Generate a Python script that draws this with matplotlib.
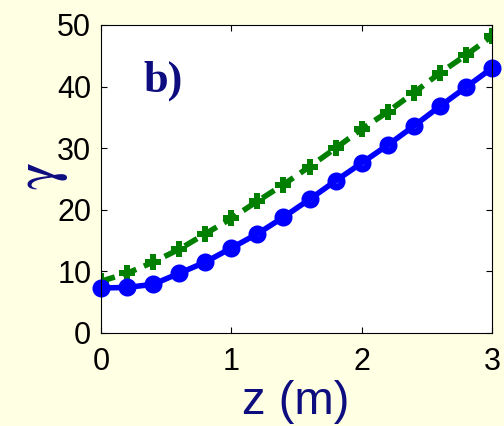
import matplotlib.pyplot as plt

# dados
z = [0.0, 0.2, 0.4, 0.6, 0.8, 1.0, 1.2, 1.4, 1.6, 1.8, 2.0, 2.2, 2.4, 2.6, 2.8, 3.0]
gamma_a = [7.3, 7.4, 7.9, 9.7, 11.5, 13.8, 16.1, 18.8, 21.7, 24.7, 27.6, 30.5, 33.6, 36.8, 39.9, 43.0]
gamma_b = [8.4, 9.7, 11.5, 13.6, 16.1, 18.6, 21.4, 24.1, 27.0, 30.0, 33.1, 35.9, 39.0, 42.2, 45.1, 48.2]
xticks = [0, 1, 2, 3]
yticks = [0, 10, 20, 30, 40, 50]

bg = '#ffffe3'
navy = '#0d0d80'
plt.rcParams['mathtext.fontset'] = 'stix'

fig = plt.figure(figsize=(5.04, 4.26), dpi=100, facecolor=bg)
ax = fig.add_axes([101/504, 1 - 333/426, 391/504, 308/426])

ax.plot(z, gamma_b, linestyle='--', color='#007f00', linewidth=4, dashes=(2.6, 1.5),
        marker='P', markersize=12, markeredgewidth=0)
ax.plot(z, gamma_a, linestyle='-', color='#0000ff', linewidth=4,
        marker='o', markersize=8, markerfacecolor='none', markeredgecolor='#0000ff',
        markeredgewidth=5, clip_on=False)

ax.set_xlim(0, 3)
ax.set_ylim(0, 50)
ax.set_xticks(xticks)
ax.set_yticks(yticks)
ax.tick_params(direction='in', length=4, width=0.8, top=True, right=True,
               labelsize=22, colors='black')
ax.tick_params(axis='x', pad=10)
ax.tick_params(axis='y', pad=7)
for lab in ax.get_xticklabels() + ax.get_yticklabels():
    lab.set_fontfamily('Liberation Sans')

# rótulos
fig.text(296/504, 1 - 402/426, 'z (m)', fontsize=34, color=navy, family='Liberation Sans',
         ha='center', va='center')
fig.text(41/504, 1 - 176/426, r'$\mathrm{\gamma}$', fontsize=42, color=navy, rotation=90,
         ha='center', va='center')

ax.text(0.48, 41, 'b)', fontsize=32, fontweight='bold', color=navy,
        family='Liberation Serif', ha='center', va='center')

fig.savefig('out.png', dpi=100, facecolor=bg)
